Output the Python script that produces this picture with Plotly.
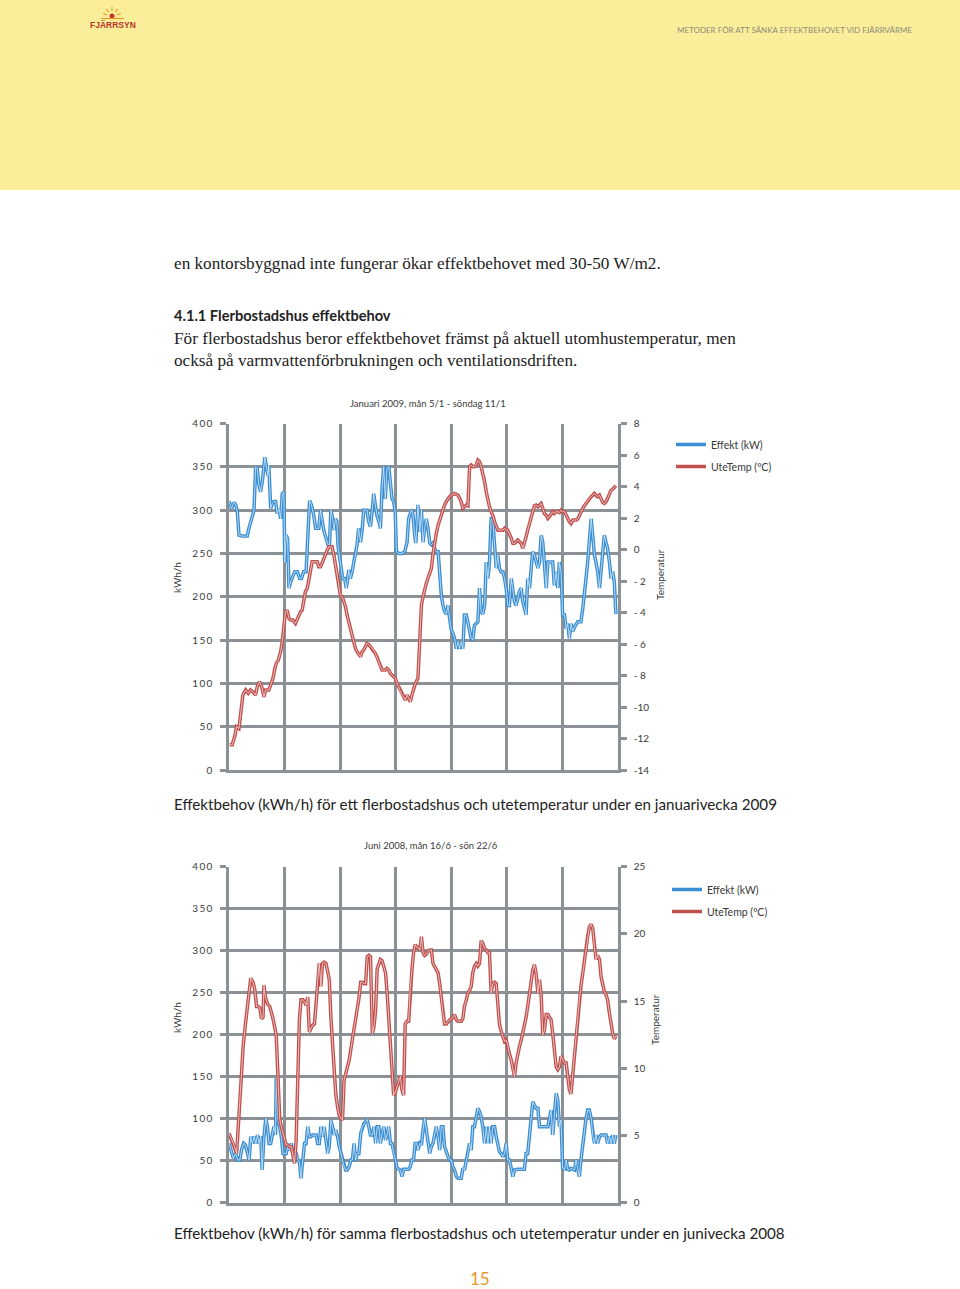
import math
import plotly.graph_objects as go

W, H = 960, 1289

# ------------------------------------------------------------------ data
# x = hours since Monday 00:00 (one week = 168 h)
hours_late = [81.6, 82.4, 83.1, 83.8, 84.5, 85.2, 85.9, 86.7, 87.4, 88.1, 88.8, 89.5, 90.3, 91.0, 91.7, 92.4,
              93.1, 93.9, 94.6, 95.3, 96.0, 96.7, 97.4, 98.2, 98.9, 99.6, 100.3, 101.0, 101.7, 102.5, 103.2,
              103.9, 104.6, 105.3, 106.0, 106.8, 107.5, 108.2, 108.9, 109.6, 110.4, 111.1, 111.8, 112.5, 113.2,
              113.9, 114.7, 115.4, 116.1, 116.8, 117.5, 118.3, 119.0, 119.7, 120.4, 121.1, 121.9, 122.6, 123.3,
              124.0, 124.7, 125.4, 126.2, 126.9, 127.6, 128.3, 129.0, 129.8, 130.5, 131.2, 131.9, 132.6, 133.4,
              134.1, 134.8, 135.5, 136.2, 137.0, 137.7, 138.4, 139.1, 139.8, 140.5, 141.3, 142.0, 142.7, 143.4,
              144.1, 144.9, 145.6, 146.3, 147.0, 147.7, 148.5, 149.2, 149.9, 150.6, 151.3, 152.0, 152.8, 153.5,
              154.2, 154.9, 155.6, 156.4, 157.1, 157.8, 158.5, 159.2, 160.0, 160.7, 161.4, 162.1, 162.8, 163.5,
              164.3, 165.0, 165.7, 166.4, 167.1]

# --- January 2009: Effekt (kWh/h)
jan_effekt_hours_early = [0, 1.1, 2.2, 2.9, 3.6, 4.3, 5.7, 7.9, 8.6, 10.8, 11.5, 12.2, 12.9, 13.6, 14.4, 15.5, 16.2,
                          16.8, 17.2, 18.0, 18.7, 19.4, 20.1, 20.8, 21.6, 22.3, 23.0, 23.7, 24.1, 24.7, 25.3, 25.9,
                          26.6, 27.3, 28.4, 29.5, 30.5, 31.3, 32.2, 33.3, 34.2, 34.8, 35.6, 36.6, 37.4, 38.8, 39.5,
                          40.2, 40.9, 42.0, 42.8, 43.4, 44.0, 44.5, 45.4, 46.0, 46.6, 47.1, 47.7, 48.6, 49.1, 50.0,
                          50.6, 51.1, 51.7, 52.4, 53.2, 53.9, 54.6, 55.3, 56.0, 56.8, 57.5, 58.2, 58.9, 59.6, 60.3,
                          61.1, 61.8, 62.5, 63.2, 63.9, 64.7, 65.4, 66.1, 66.8, 67.5, 68.2, 69.0, 69.7, 70.4, 71.1,
                          71.8, 72.3, 73.3, 74.7, 75.9, 76.9, 77.6, 78.7, 79.3, 80.2, 80.7]
jan_effekt_early = [310, 302, 309, 306, 298, 271, 270, 270, 279, 300, 350, 348, 329, 321, 333, 361, 350, 340, 352,
                    302, 308, 310, 310, 296, 302, 290, 319, 321, 240, 271, 267, 210, 217, 221, 229, 229, 221, 221,
                    229, 229, 271, 311, 306, 294, 279, 279, 300, 287, 277, 267, 260, 260, 300, 294, 277, 290, 287,
                    258, 248, 229, 221, 221, 210, 217, 231, 221, 229, 240, 248, 260, 279, 263, 277, 300, 300, 300,
                    287, 281, 298, 319, 306, 294, 287, 279, 325, 350, 313, 348, 350, 333, 313, 310, 298, 252, 250,
                    250, 252, 263, 290, 300, 298, 271, 262]
jan_effekt_late = [306, 275, 300, 263, 279, 290, 280, 262, 260, 262, 256, 252, 252, 221, 202, 190, 183, 180, 190,
                   175, 162, 158, 152, 140, 148, 140, 148, 140, 179, 179, 171, 160, 152, 150, 167, 169, 171, 210,
                   183, 180, 190, 240, 221, 240, 290, 290, 256, 233, 248, 233, 229, 229, 221, 210, 190, 190, 221,
                   210, 194, 190, 198, 206, 210, 194, 187, 179, 221, 210, 233, 252, 248, 240, 233, 240, 271, 263,
                   240, 210, 240, 240, 240, 240, 213, 229, 210, 240, 229, 179, 179, 163, 169, 152, 169, 160, 165,
                   169, 171, 171, 171, 187, 202, 221, 240, 267, 290, 271, 248, 240, 229, 210, 229, 256, 271, 263,
                   256, 240, 221, 229, 217, 180]

# --- January 2009: UteTemp (ºC)
jan_temp_hours_early = [0.3, 1.4, 2.6, 3.2, 4.3, 5.0, 6.0, 7.2, 8.3, 9.3, 10.3, 11.5, 12.2, 13.2, 14.1, 15.1, 15.8,
                        16.5, 17.2, 18.0, 19.0, 19.8, 20.4, 21.3, 22.3, 23.0, 23.7, 24.4, 25.1, 25.9, 26.6, 27.6,
                        28.7, 29.5, 30.2, 30.9, 31.6, 32.3, 33.0, 33.8, 34.5, 35.2, 35.9, 37.1, 38.1, 38.8, 39.5,
                        40.2, 40.9, 41.7, 42.4, 43.1, 43.8, 44.5, 45.3, 46.0, 46.7, 47.4, 48.1, 48.9, 49.6, 50.3,
                        51.0, 51.7, 52.4, 53.2, 53.9, 54.6, 55.3, 56.0, 56.8, 57.5, 58.2, 58.9, 59.6, 60.3, 61.1,
                        61.8, 62.5, 63.2, 63.9, 64.7, 65.4, 66.1, 66.8, 67.5, 68.2, 69.0, 69.7, 70.4, 71.1, 71.8,
                        72.6, 73.3, 74.0, 74.7, 75.4, 76.1, 76.9, 77.6, 78.3, 79.0, 79.7, 80.5]
jan_temp_early = [-12.4, -12.4, -11.8, -11.25, -11.36, -10.5, -9.24, -8.92, -9.13, -8.92, -9.03, -9.24, -8.71,
                  -8.39, -8.71, -9.35, -8.92, -8.92, -8.92, -8.6, -8.18, -7.55, -7.23, -7.02, -6.49, -5.86, -4.8,
                  -3.95, -3.85, -4.37, -4.48, -4.48, -4.69, -4.37, -4.16, -3.95, -3.85, -3.32, -2.68, -2.47, -1.94,
                  -1.31, -0.78, -0.78, -0.78, -1.1, -1.1, -0.88, -0.57, -0.25, -0.04, 0.17, 0.17, 0.17, -0.36,
                  -0.99, -1.52, -2.05, -2.89, -3.0, -3.32, -3.63, -4.16, -4.59, -5.01, -5.43, -5.86, -6.28, -6.49,
                  -6.66, -6.81, -6.49, -6.38, -6.17, -5.96, -6.02, -6.17, -6.28, -6.38, -6.6, -6.81, -7.12, -7.44,
                  -7.65, -7.65, -7.65, -7.55, -7.65, -7.87, -7.97, -8.08, -8.18, -8.5, -8.71, -9.03, -9.24, -9.45,
                  -9.56, -9.24, -9.45, -9.66, -9.24, -8.92, -8.5]
jan_temp_late = [-8.18, -5.86, -3.53, -3.0, -2.47, -2.15, -1.84, -1.5, -1.2, -0.3, 0.49, 1.0, 1.55, 1.9, 2.18, 2.5,
                 2.82, 3.05, 3.24, 3.35, 3.45, 3.5, 3.56, 3.5, 3.45, 3.25, 3.03, 2.61, 2.71, 2.82, 2.78, 5.25, 5.36,
                 5.25, 5.25, 5.36, 5.67, 5.57, 5.25, 4.83, 4.3, 3.66, 3.14, 2.71, 2.4, 2.18, 1.76, 1.44, 1.23, 1.23,
                 1.23, 1.23, 1.34, 1.23, 1.23, 1.02, 0.7, 0.39, 0.39, 0.49, 0.6, 0.49, 0.39, 0.07, 0.39, 0.81,
                 1.23, 1.65, 2.08, 2.5, 2.78, 2.82, 2.71, 2.82, 2.92, 2.61, 2.29, 2.18, 1.97, 2.08, 2.29, 2.4,
                 2.29, 2.4, 2.4, 2.35, 2.5, 2.4, 2.4, 2.18, 1.97, 1.76, 1.65, 1.87, 1.87, 1.87, 1.93, 2.18, 2.4,
                 2.61, 2.78, 2.92, 3.14, 3.24, 3.35, 3.45, 3.56, 3.45, 3.35, 3.45, 3.24, 2.99, 2.92, 3.03, 3.24,
                 3.56, 3.77, 3.83, 3.98, 4.05]

# --- June 2008: Effekt (kWh/h)
jun_effekt_hours_early = [0, 0.9, 1.9, 2.9, 3.7, 4.7, 5.4, 6.3, 7.1, 8.0, 8.7, 9.4, 10.1, 10.9, 11.6, 12.3, 13.0,
                          13.7, 14.3, 15.1, 15.9, 16.6, 17.3, 18.0, 18.7, 19.4, 20.1, 20.4, 21.1, 21.9, 22.6, 23.3,
                          24.0, 24.7, 25.4, 26.1, 26.9, 27.6, 28.3, 29.0, 29.7, 30.4, 31.1, 31.9, 32.6, 33.3, 34.0,
                          34.7, 35.4, 36.1, 36.9, 37.6, 38.3, 39.0, 39.7, 40.4, 41.1, 41.9, 42.6, 43.3, 44.0, 44.7,
                          45.4, 46.1, 46.9, 47.6, 48.3, 49.0, 49.7, 50.4, 51.1, 51.9, 52.6, 53.3, 54.0, 54.7, 55.4,
                          56.1, 56.9, 57.6, 58.3, 59.0, 59.7, 60.4, 61.1, 61.9, 62.6, 63.3, 64.0, 64.7, 65.4, 66.1,
                          66.9, 67.6, 68.3, 69.0, 69.7, 70.4, 71.1, 71.9, 72.6, 73.3, 74.0, 74.7, 75.4, 76.1, 76.9,
                          77.6, 78.3, 79.0, 79.7, 80.4, 81.1]
jun_effekt_early = [70.6, 62.7, 52.8, 58.7, 50.8, 50.8, 62.7, 70.6, 68.7, 58.7, 50.8, 78.6, 70.6, 78.6, 70.6, 80.6,
                    70.6, 79.4, 39, 78.6, 100.4, 90.5, 70.6, 70.6, 82.5, 90.5, 80.6, 150, 98.4, 90.5, 78.6, 58.7,
                    58.7, 58.7, 66.7, 62.7, 70.6, 58.7, 62.7, 58.7, 50.8, 48.8, 29, 50.8, 70.6, 70.6, 90.5, 78.6,
                    78.6, 80.6, 80.6, 80.6, 70.6, 70.6, 90.5, 78.6, 90.5, 70.6, 58.7, 66.7, 98.4, 90.5, 80.6, 86.5,
                    78.6, 66.7, 58.7, 50.8, 42.9, 38.9, 38.9, 42.9, 50.8, 50.8, 70.6, 50.8, 58.7, 58.7, 82.5, 90.5,
                    94.4, 96.4, 99, 90.5, 80.6, 80.6, 90.5, 70.6, 90.5, 90.5, 70.6, 82.5, 90.5, 74.6, 80.6, 90.5,
                    70.6, 70.6, 58.7, 50.8, 40.9, 39.7, 38.9, 31, 39.7, 39.7, 39.7, 39.7, 42.9, 50.8, 50.8, 70.6,
                    70.6]
jun_effekt_late = [62.7, 70.6, 68.7, 86.5, 100.4, 86.5, 70.6, 58.7, 66.7, 70.6, 80.6, 90.5, 78.6, 62.7, 90.5, 90.5,
                   66.7, 58.7, 54.8, 50.8, 50.8, 42.9, 38.9, 31, 29, 29, 29, 40.9, 38.9, 50.8, 58.7, 70.6, 62.7,
                   90.5, 90.5, 102.4, 112.3, 108.3, 102.4, 90.5, 70.6, 90.5, 70.6, 90.5, 70.6, 90.5, 90.5, 78.6,
                   70.6, 60.7, 58.7, 54.8, 58.7, 70.6, 50.8, 50.8, 40.9, 31, 38.9, 39.7, 39.7, 39.7, 39.7, 39.7,
                   39.7, 58.7, 58.7, 80.6, 100.4, 120.2, 116.3, 112.3, 112.3, 90.5, 90.5, 90.5, 90.5, 90.5, 90.5,
                   100.4, 110.3, 80.6, 102.4, 130, 122, 90.5, 98.4, 40.9, 38.9, 50.8, 39.7, 38.9, 40.9, 39.7, 38.9,
                   50.8, 38.9, 31, 50.8, 70.6, 90.5, 100.4, 110.3, 110.3, 100.4, 80.6, 70.6, 80.6, 70.6, 78.6,
                   80.6, 80.6, 80.6, 80.6, 70.6, 78.6, 70.6, 80.6, 70.6, 80.6]

# --- June 2008: UteTemp (ºC)
jun_temp_hours_early = [0, 0.9, 1.9, 3.3, 4.7, 6.1, 7.1, 8.3, 9.4, 10.4, 11.1, 11.9, 12.6, 13.3, 14.0, 14.7, 15.1,
                        15.7, 16.6, 17.6, 18.3, 19.0, 19.7, 20.4, 21.1, 21.9, 22.6, 23.3, 24.0, 24.7, 25.4, 26.1,
                        26.9, 27.6, 28.3, 29.0, 29.7, 30.4, 31.1, 31.9, 32.6, 33.3, 34.0, 34.7, 35.4, 36.1, 36.9,
                        37.6, 38.3, 39.0, 39.7, 40.4, 41.1, 41.9, 42.6, 43.3, 44.0, 44.7, 45.4, 46.1, 46.9, 47.6,
                        48.3, 49.0, 49.7, 50.4, 51.1, 51.9, 52.6, 53.3, 54.0, 54.7, 55.4, 56.1, 56.9, 57.6, 58.3,
                        59.0, 59.7, 60.4, 61.1, 61.9, 62.6, 63.3, 64.0, 64.7, 65.4, 66.1, 66.9, 67.6, 68.3, 69.0,
                        69.7, 70.4, 71.1, 71.9, 72.6, 73.3, 74.0, 74.7, 75.4, 76.1, 76.9, 77.6, 78.3, 79.0, 79.7,
                        80.4, 81.1]
jun_temp_early = [5.16, 4.79, 4.41, 3.67, 7.6, 11.6, 13.3, 15.1, 16.7, 16.4, 15.9, 14.6, 14.6, 14.5, 13.7, 13.8,
                  16.2, 15.3, 14.8, 14.6, 14.2, 13.7, 13.1, 12.4, 9.6, 6.2, 5.65, 5.16, 4.66, 4.3, 4.3, 4.17, 4.17,
                  3.42, 2.93, 4.66, 8.6, 13.6, 15.1, 15.1, 14.95, 14.7, 15.3, 12.7, 12.97, 13.2, 13.3, 14.6, 16.6,
                  17.8, 16.1, 17.8, 17.9, 17.8, 17.2, 16.6, 13.8, 11.6, 9.6, 8.1, 7.1, 6.5, 6.3, 6.15, 9.1, 9.6,
                  10.1, 10.6, 11.4, 12.1, 12.8, 13.6, 14.3, 15.2, 16.4, 16.4, 16.3, 16.3, 18.3, 18.4, 18.3, 12.6,
                  13.1, 14.3, 17.4, 17.7, 18.1, 18.0, 17.6, 17.1, 15.6, 13.6, 11.1, 9.4, 8.0, 8.26, 8.6, 9.0, 9.4,
                  8.4, 8.0, 13.3, 13.5, 13.5, 16.1, 17.3, 18.6, 19.2, 19.0]
jun_temp_late = [19.0, 18.8, 19.8, 18.6, 18.4, 18.5, 18.7, 18.8, 18.8, 17.8, 17.6, 17.3, 17.1, 16.3, 15.1, 14.1,
                 13.3, 13.3, 13.5, 13.6, 13.7, 13.8, 14.0, 13.6, 13.5, 13.5, 13.5, 13.7, 14.6, 15.1, 15.6, 15.8,
                 16.1, 17.1, 17.6, 17.8, 17.6, 17.8, 19.5, 19.3, 18.9, 18.8, 18.6, 18.6, 15.6, 16.3, 16.4, 16.3,
                 14.8, 13.3, 12.8, 12.4, 12.0, 12.1, 11.7, 11.1, 10.6, 9.9, 9.4, 10.4, 11.1, 11.6, 12.1, 12.6,
                 13.1, 13.8, 14.6, 15.6, 16.6, 17.3, 17.7, 17.1, 15.6, 16.6, 15.5, 12.5, 12.8, 14.0, 14.0, 13.8,
                 13.6, 12.6, 11.4, 10.1, 9.9, 10.1, 10.9, 10.6, 10.4, 10.4, 9.4, 8.4, 8.1, 9.6, 11.1, 12.6, 14.1,
                 15.1, 16.1, 17.1, 18.1, 19.0, 19.8, 20.5, 20.7, 20.4, 19.0, 18.1, 18.4, 18.1, 16.8, 16.1, 15.7,
                 15.5, 15.1, 14.1, 13.3, 12.6, 12.2, 12.4]

series_names = ["Effekt (kW)", "UteTemp (ºC)"]
day_ticks = [0, 24, 48, 72, 96, 120, 144, 168]
kwh_ticks = [0, 50, 100, 150, 200, 250, 300, 350, 400]
jan_temp_ticks = [-14, -12, -10, -8, -6, -4, -2, 0, 2, 4, 6, 8]
jun_temp_ticks = [0, 5, 10, 15, 20, 25]

chart_titles = ["Januari 2009, mån 5/1 - söndag 11/1", "Juni 2008, mån 16/6 - sön 22/6"]
captions = ["Effektbehov (kWh/h) för ett flerbostadshus och utetemperatur under en januarivecka 2009",
            "Effektbehov (kWh/h) för samma flerbostadshus och utetemperatur under en junivecka 2008"]

# ------------------------------------------------------------------ helpers
def join(h_early, v_early, v_late):
    n1 = min(len(h_early), len(v_early))
    n2 = min(len(hours_late), len(v_late))
    return list(h_early[:n1]) + hours_late[:n2], list(v_early[:n1]) + list(v_late[:n2])


def px(x):
    return x / W


def py(y):
    return 1 - y / H


BLUE = "#3a8fd3"
RED = "#c0504d"
GRID = "#8c9196"
TXT = "#3a3a3a"
TICKFONT = dict(family="Lato", size=10, color=TXT)

fig = go.Figure()


def add_line(x, y, color, name, xa, ya, legend):
    fig.add_trace(go.Scatter(x=x, y=y, mode="lines", name=name, xaxis=xa, yaxis=ya, legend=legend,
                             legendgroup=legend + name, line=dict(color=color, width=3.5),
                             hoverinfo="skip"))
    fig.add_trace(go.Scatter(x=x, y=y, mode="lines", xaxis=xa, yaxis=ya, showlegend=False,
                             line=dict(color="rgba(255,255,255,0.7)", width=0.9), hoverinfo="skip"))


x, y = join(jan_effekt_hours_early, jan_effekt_early, jan_effekt_late)
add_line(x, y, BLUE, series_names[0], "x", "y", "legend")
x, y = join(jan_temp_hours_early, jan_temp_early, jan_temp_late)
add_line(x, y, RED, series_names[1], "x", "y2", "legend")
x, y = join(jun_effekt_hours_early, jun_effekt_early, jun_effekt_late)
add_line(x, y, BLUE, series_names[0], "x2", "y3", "legend2")
x, y = join(jun_temp_hours_early, jun_temp_early, jun_temp_late)
add_line(x, y, RED, series_names[1], "x2", "y4", "legend2")

# ------------------------------------------------------------------ axes
XD = [px(229), px(618)]
Y1 = [py(770), py(423.5)]
Y2 = [py(1202.7), py(866.7)]


def spaced(v):
    return "\u2009".join(str(v))


def temp_label(v):
    return f"- {abs(v)}" if -10 < v < 0 else str(v)


xcommon = dict(range=[0, 168], tickvals=day_ticks, showticklabels=False, showgrid=True, gridcolor=GRID,
               gridwidth=2.5, showline=True, linecolor=GRID, linewidth=2.5, ticks="", zeroline=False,
               fixedrange=True, automargin=False)
ycommon = dict(range=[0, 400], tickvals=kwh_ticks, ticktext=[spaced(v) for v in kwh_ticks], showgrid=True,
               gridcolor=GRID, gridwidth=2.5, showline=True, linecolor=GRID, linewidth=2.5, ticks="outside",
               ticklen=6, tickcolor=GRID, tickwidth=2.5, ticklabelstandoff=6, tickfont=TICKFONT,
               zeroline=False, fixedrange=True, automargin=False)
rcommon = dict(side="right", showgrid=False, showline=True, linecolor=GRID, linewidth=2.5, ticks="outside",
               ticklen=6, tickcolor=GRID, tickwidth=2.5, ticklabelstandoff=5, tickfont=TICKFONT,
               zeroline=False, fixedrange=True, automargin=False)

fig.update_layout(
    xaxis=dict(domain=XD, anchor="y", **xcommon),
    yaxis=dict(domain=Y1, anchor="x", **ycommon),
    yaxis2=dict(overlaying="y", anchor="x", range=[-14, 8], tickvals=jan_temp_ticks,
                ticktext=[temp_label(v) for v in jan_temp_ticks], **rcommon),
    xaxis2=dict(domain=XD, anchor="y3", **xcommon),
    yaxis3=dict(domain=Y2, anchor="x2", **ycommon),
    yaxis4=dict(overlaying="y3", anchor="x2", range=[0, 25], tickvals=jun_temp_ticks,
                ticktext=[str(v) for v in jun_temp_ticks], **rcommon),
)

legend_common = dict(xanchor="left", yanchor="top", font=dict(family="Lato", size=10.5, color=TXT),
                     bgcolor="rgba(0,0,0,0)", traceorder="grouped", tracegroupgap=3, itemwidth=30)
fig.update_layout(
    legend=dict(x=px(671), y=py(430), **legend_common),
    legend2=dict(x=px(667), y=py(875), **legend_common),
)

# ------------------------------------------------------------------ page decoration
shapes = [dict(type="rect", xref="paper", yref="paper", x0=0, x1=1, y0=py(190), y1=1,
               fillcolor="#fbee9b", line=dict(width=0), layer="below")]
# little sun logo
cx, cy = 112, 16
shapes.append(dict(type="circle", xref="paper", yref="paper", x0=px(cx - 2.5), x1=px(cx + 2.5),
                   y0=py(cy + 2.5), y1=py(cy - 2.5), fillcolor="#c0392b", line=dict(width=0)))
for ang in (15, 50, 90, 130, 165):
    a = math.radians(ang)
    shapes.append(dict(type="line", xref="paper", yref="paper",
                       x0=px(cx + 5 * math.cos(a)), y0=py(cy - 5 * math.sin(a)),
                       x1=px(cx + 9 * math.cos(a)), y1=py(cy - 9 * math.sin(a)),
                       line=dict(color="#eb9a2c", width=1.2)))
shapes.append(dict(type="line", xref="paper", yref="paper", x0=px(101), x1=px(124), y0=py(18.5), y1=py(18.5),
                   line=dict(color="#eb9a2c", width=1.2)))
fig.update_layout(shapes=shapes)

annotations = []


def txt(x, y, s, size, color="#222", family="Liberation Serif", anchor="left", angle=0):
    annotations.append(dict(x=px(x), y=py(y), xref="paper", yref="paper", text=s, showarrow=False,
                            xanchor=anchor, yanchor="middle", textangle=angle, borderpad=0, borderwidth=0,
                            font=dict(family=family, size=size, color=color)))


txt(113, 25, "<b>FJÄRRSYN</b>", 8.5, "#b8362a", "Liberation Sans", "center")
txt(912, 30, "METODER FÖR ATT SÄNKA EFFEKTBEHOVET VID FJÄRRVÄRME", 8, "#8d8b78", "Lato", "right")

txt(174, 264, "en kontorsbyggnad inte fungerar ökar effektbehovet med 30-50 W/m2.", 17.2)
txt(174, 315, "<b>4.1.1 Flerbostadshus effektbehov</b>", 14.6, "#222", "Lato")
txt(174, 338, "För flerbostadshus beror effektbehovet främst på aktuell utomhustemperatur, men", 17.2)
txt(174, 360, "också på varmvattenförbrukningen och ventilationsdriften.", 17.2)

txt(428, 403, chart_titles[0], 9.5, TXT, "Lato", "center")
txt(431, 845, chart_titles[1], 9.5, TXT, "Lato", "center")
txt(177, 578, "kWh/h", 10, TXT, "Lato", "center", -90)
txt(660, 575, "Temperatur", 10, TXT, "Lato", "center", -90)
txt(177, 1018, "kWh/h", 10, TXT, "Lato", "center", -90)
txt(655, 1020, "Temperatur", 10, TXT, "Lato", "center", -90)

txt(174, 804, captions[0], 15.2, "#222", "Lato")
txt(174, 1233, captions[1], 15.2, "#222", "Lato")
txt(480, 1278, "15", 17, "#e8962e", "Lato", "center")

fig.update_layout(annotations=annotations, width=W, height=H, autosize=False,
                  margin=dict(l=0, r=0, t=0, b=0, pad=0, autoexpand=False),
                  paper_bgcolor="white", plot_bgcolor="white", showlegend=True)

fig.write_html(
    "out.html",
    config={"responsive": False, "displayModeBar": False},
    post_script=(
        "var s=document.documentElement.style;s.margin='0';s.padding='0';s.overflow='hidden';"
        "var b=document.body.style;b.margin='0';b.padding='0';b.overflow='hidden';"
    ),
)
